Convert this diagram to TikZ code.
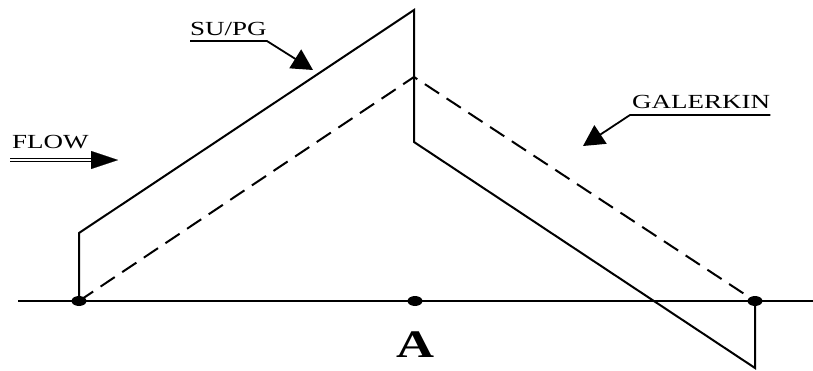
\documentclass[tikz,border=0pt]{standalone}
\usepackage{fontspec}
\setmainfont{Liberation Serif}[FakeStretch=1.35]
\usetikzlibrary{positioning, arrows.meta}

\begin{document}
\begin{tikzpicture}[x=1pt, y=-1pt, font=\fontsize{20}{22}\selectfont,
      curve/.style={line width=2pt},
      guess/.style={line width=2pt, dash pattern=on 17pt off 9pt},
      pointer/.style={line width=1.8pt, -{Triangle[length=21pt, width=22pt]}},
      label/.style={inner sep=0pt, anchor=base west},
      dot/.style={fill=black}]
    \useasboundingbox (0,0) rectangle (813,370);
    % points on the axis
    \coordinate (axl) at (18,301);
    \coordinate (axr) at (813,301);
    \coordinate (l) at (79,301);
    \coordinate (m) at (415,301);
    \coordinate (r) at (755,301);
    % corners of the two solutions
    \coordinate (lt) at (79,233);
    \coordinate (mt) at (414,10);
    \coordinate (mb) at (414,142);
    \coordinate (rb) at (755,368);
    \coordinate (md) at (414,77);
    \draw[line width=1.5pt] (axl) -- (axr);
    \draw[curve] (l) -- (lt) -- (mt) -- (mb) -- (rb) -- (r);
    \draw[guess] (l) -- (md) -- (r);
    \foreach \p in {l, m, r}
      \fill[dot] (\p) ellipse (7.5 and 5);
    \node[font=\bfseries\fontsize{39}{40}\selectfont, inner sep=0pt, anchor=base] (pt) at (416,357) {A};
    % labels with pointers
    \node[label] (flow) at (12,148) {FLOW};
    \coordinate (flowa) at (10,160);
    \coordinate (flowb) at (91,160);
    \coordinate (flowc) at (118,160);
    \draw[line width=1pt, double distance=2.2pt] (flowa) -- (flowb);
    \draw[line width=0.1pt, -{Triangle[length=27pt, width=18pt]}] (flowb) -- (flowc);
    \node[label] (supg) at (190,35) {SU/PG};
    \coordinate (supgtip) at (313,70);
    \draw[pointer] ([yshift=-6pt]supg.base west) -- ([yshift=-6pt]supg.base east) -- (supgtip);
    \node[label] (gal) at (632,108) {GALERKIN};
    \coordinate (galtip) at (583,146);
    \draw[pointer] ([yshift=-7pt]gal.base east) -- ([xshift=-2pt, yshift=-7pt]gal.base west) -- (galtip);
  \end{tikzpicture}
\end{document}
